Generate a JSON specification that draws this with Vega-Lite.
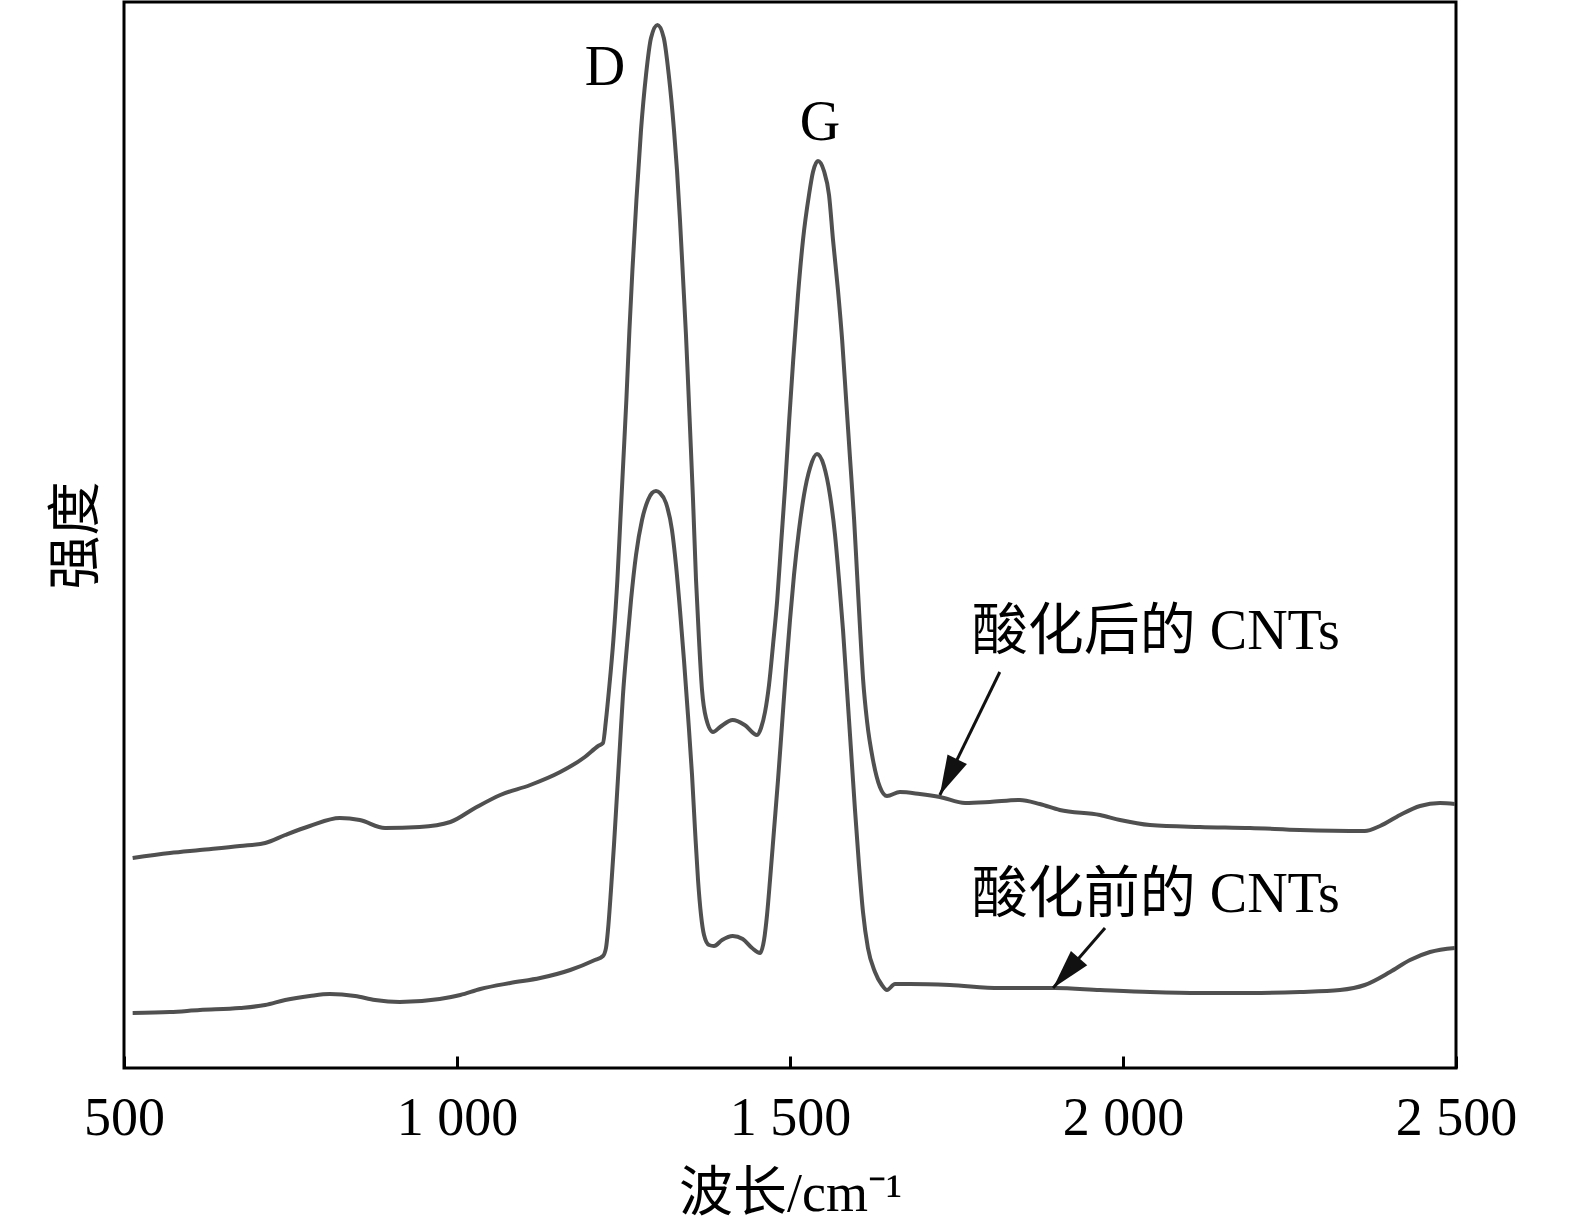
{
  "$schema": "https://vega.github.io/schema/vega-lite/v6.json",
  "description": "Raman spectra of CNTs before and after acid treatment.",
  "width": 1332,
  "height": 1066,
  "autosize": {"type": "none"},
  "padding": {"left": 124, "top": 2, "right": 119, "bottom": 159},
  "background": "white",
  "datasets": {
    "spectra": [
      {"series": "after", "x": 513, "y": 210}, {"series": "after", "x": 569, "y": 215}, {"series": "after", "x": 614, "y": 218},
      {"series": "after", "x": 674, "y": 222}, {"series": "after", "x": 712, "y": 225}, {"series": "after", "x": 742, "y": 233},
      {"series": "after", "x": 779, "y": 242}, {"series": "after", "x": 824, "y": 250}, {"series": "after", "x": 854, "y": 248},
      {"series": "after", "x": 892, "y": 240}, {"series": "after", "x": 944, "y": 241}, {"series": "after", "x": 990, "y": 246},
      {"series": "after", "x": 1027, "y": 260}, {"series": "after", "x": 1065, "y": 273}, {"series": "after", "x": 1110, "y": 283},
      {"series": "after", "x": 1155, "y": 296}, {"series": "after", "x": 1192, "y": 311}, {"series": "after", "x": 1212, "y": 322},
      {"series": "after", "x": 1219.2, "y": 325}, {"series": "after", "x": 1223.7, "y": 348}, {"series": "after", "x": 1228.2, "y": 378},
      {"series": "after", "x": 1234.8, "y": 428}, {"series": "after", "x": 1240.8, "y": 488}, {"series": "after", "x": 1245.3, "y": 548},
      {"series": "after", "x": 1249.8, "y": 608}, {"series": "after", "x": 1254.3, "y": 668}, {"series": "after", "x": 1258.9, "y": 738},
      {"series": "after", "x": 1263.4, "y": 798}, {"series": "after", "x": 1269.4, "y": 868}, {"series": "after", "x": 1276.3, "y": 938},
      {"series": "after", "x": 1283.8, "y": 993}, {"series": "after", "x": 1291.3, "y": 1030}, {"series": "after", "x": 1301, "y": 1043},
      {"series": "after", "x": 1310.5, "y": 1030}, {"series": "after", "x": 1318, "y": 993}, {"series": "after", "x": 1325.8, "y": 938},
      {"series": "after", "x": 1330.3, "y": 898}, {"series": "after", "x": 1334.8, "y": 848},
      {"series": "after", "x": 1339.3, "y": 791}, {"series": "after", "x": 1343.8, "y": 733}, {"series": "after", "x": 1346.8, "y": 688},
      {"series": "after", "x": 1349.8, "y": 641}, {"series": "after", "x": 1354.4, "y": 568}, {"series": "after", "x": 1358.9, "y": 488},
      {"series": "after", "x": 1363.4, "y": 428}, {"series": "after", "x": 1367.9, "y": 378}, {"series": "after", "x": 1373.9, "y": 350},
      {"series": "after", "x": 1384.4, "y": 336}, {"series": "after", "x": 1395, "y": 341}, {"series": "after", "x": 1414, "y": 348},
      {"series": "after", "x": 1432, "y": 343}, {"series": "after", "x": 1450.5, "y": 333}, {"series": "after", "x": 1456.5, "y": 340},
      {"series": "after", "x": 1462.5, "y": 356}, {"series": "after", "x": 1468.5, "y": 383}, {"series": "after", "x": 1474.5, "y": 423},
      {"series": "after", "x": 1480.8, "y": 468}, {"series": "after", "x": 1486.5, "y": 523}, {"series": "after", "x": 1492.8, "y": 583},
      {"series": "after", "x": 1498.8, "y": 648}, {"series": "after", "x": 1504.8, "y": 708}, {"series": "after", "x": 1512, "y": 773},
      {"series": "after", "x": 1519.5, "y": 828}, {"series": "after", "x": 1528.5, "y": 873}, {"series": "after", "x": 1534.5, "y": 896},
      {"series": "after", "x": 1542, "y": 907}, {"series": "after", "x": 1551, "y": 897}, {"series": "after", "x": 1558.6, "y": 873},
      {"series": "after", "x": 1564.6, "y": 828}, {"series": "after", "x": 1572, "y": 778}, {"series": "after", "x": 1578.3, "y": 728},
      {"series": "after", "x": 1584.3, "y": 668}, {"series": "after", "x": 1590.3, "y": 608}, {"series": "after", "x": 1596.3, "y": 548},
      {"series": "after", "x": 1600.8, "y": 493}, {"series": "after", "x": 1605.3, "y": 438}, {"series": "after", "x": 1609.8, "y": 388},
      {"series": "after", "x": 1615.8, "y": 346}, {"series": "after", "x": 1624.6, "y": 308}, {"series": "after", "x": 1635, "y": 281},
      {"series": "after", "x": 1645.6, "y": 272}, {"series": "after", "x": 1665, "y": 276},
      {"series": "after", "x": 1695, "y": 274}, {"series": "after", "x": 1725, "y": 271}, {"series": "after", "x": 1763, "y": 265},
      {"series": "after", "x": 1800, "y": 266}, {"series": "after", "x": 1845, "y": 268}, {"series": "after", "x": 1875, "y": 264},
      {"series": "after", "x": 1905, "y": 258}, {"series": "after", "x": 1965.5, "y": 253}, {"series": "after", "x": 1995.5, "y": 248},
      {"series": "after", "x": 2040.5, "y": 243}, {"series": "after", "x": 2115.6, "y": 241}, {"series": "after", "x": 2190.7, "y": 240},
      {"series": "after", "x": 2265.8, "y": 238}, {"series": "after", "x": 2363, "y": 237}, {"series": "after", "x": 2386, "y": 242},
      {"series": "after", "x": 2416, "y": 253}, {"series": "after", "x": 2446, "y": 262}, {"series": "after", "x": 2476, "y": 265},
      {"series": "after", "x": 2498.5, "y": 264},
      {"series": "before", "x": 513, "y": 55}, {"series": "before", "x": 569, "y": 56}, {"series": "before", "x": 614, "y": 58},
      {"series": "before", "x": 674, "y": 60}, {"series": "before", "x": 712, "y": 63}, {"series": "before", "x": 742, "y": 68},
      {"series": "before", "x": 779, "y": 72}, {"series": "before", "x": 809, "y": 74}, {"series": "before", "x": 847, "y": 72},
      {"series": "before", "x": 877, "y": 68}, {"series": "before", "x": 914, "y": 66}, {"series": "before", "x": 974, "y": 69},
      {"series": "before", "x": 1005, "y": 73}, {"series": "before", "x": 1035, "y": 79}, {"series": "before", "x": 1080, "y": 85},
      {"series": "before", "x": 1125, "y": 90}, {"series": "before", "x": 1170, "y": 98}, {"series": "before", "x": 1207, "y": 108},
      {"series": "before", "x": 1219.2, "y": 112}, {"series": "before", "x": 1223.7, "y": 120}, {"series": "before", "x": 1226.7, "y": 138},
      {"series": "before", "x": 1231.2, "y": 178}, {"series": "before", "x": 1235.7, "y": 223}, {"series": "before", "x": 1240.2, "y": 273},
      {"series": "before", "x": 1244.7, "y": 323}, {"series": "before", "x": 1249.2, "y": 373}, {"series": "before", "x": 1255.3, "y": 423},
      {"series": "before", "x": 1261.3, "y": 468}, {"series": "before", "x": 1268.8, "y": 513}, {"series": "before", "x": 1277.8, "y": 548},
      {"series": "before", "x": 1286.8, "y": 568}, {"series": "before", "x": 1292.8, "y": 575}, {"series": "before", "x": 1298.8, "y": 577},
      {"series": "before", "x": 1304.8, "y": 575}, {"series": "before", "x": 1313.8, "y": 565}, {"series": "before", "x": 1322.8, "y": 538},
      {"series": "before", "x": 1328.8, "y": 503}, {"series": "before", "x": 1334.8, "y": 458}, {"series": "before", "x": 1340.8, "y": 408},
      {"series": "before", "x": 1346.8, "y": 353}, {"series": "before", "x": 1352.9, "y": 293}, {"series": "before", "x": 1357.4, "y": 238},
      {"series": "before", "x": 1361.9, "y": 188}, {"series": "before", "x": 1366.4, "y": 153}, {"series": "before", "x": 1370.9, "y": 133},
      {"series": "before", "x": 1378.4, "y": 123}, {"series": "before", "x": 1385.9, "y": 122}, {"series": "before", "x": 1398, "y": 128},
      {"series": "before", "x": 1414, "y": 132}, {"series": "before", "x": 1429, "y": 129}, {"series": "before", "x": 1443, "y": 120},
      {"series": "before", "x": 1455, "y": 115}, {"series": "before", "x": 1461, "y": 128}, {"series": "before", "x": 1465.5, "y": 153},
      {"series": "before", "x": 1470, "y": 188}, {"series": "before", "x": 1476, "y": 238}, {"series": "before", "x": 1482, "y": 288},
      {"series": "before", "x": 1488, "y": 343}, {"series": "before", "x": 1494, "y": 398}, {"series": "before", "x": 1500, "y": 448},
      {"series": "before", "x": 1506, "y": 493}, {"series": "before", "x": 1513.5, "y": 538}, {"series": "before", "x": 1521, "y": 573},
      {"series": "before", "x": 1530, "y": 600}, {"series": "before", "x": 1540.5, "y": 614}, {"series": "before", "x": 1551, "y": 602},
      {"series": "before", "x": 1560, "y": 573}, {"series": "before", "x": 1567.6, "y": 533}, {"series": "before", "x": 1573.6, "y": 488},
      {"series": "before", "x": 1579.6, "y": 438}, {"series": "before", "x": 1585.6, "y": 378}, {"series": "before", "x": 1591.6, "y": 318},
      {"series": "before", "x": 1597.6, "y": 258}, {"series": "before", "x": 1603.6, "y": 203}, {"series": "before", "x": 1609.6, "y": 156},
      {"series": "before", "x": 1617, "y": 120}, {"series": "before", "x": 1627.6, "y": 96}, {"series": "before", "x": 1638, "y": 83},
      {"series": "before", "x": 1645.6, "y": 78}, {"series": "before", "x": 1657.7, "y": 84},
      {"series": "before", "x": 1680, "y": 84}, {"series": "before", "x": 1740, "y": 83}, {"series": "before", "x": 1815, "y": 80},
      {"series": "before", "x": 1898, "y": 80}, {"series": "before", "x": 1965.5, "y": 78}, {"series": "before", "x": 2040.5, "y": 76},
      {"series": "before", "x": 2115.6, "y": 75}, {"series": "before", "x": 2190.7, "y": 75}, {"series": "before", "x": 2265.8, "y": 76},
      {"series": "before", "x": 2325.8, "y": 78}, {"series": "before", "x": 2363, "y": 83}, {"series": "before", "x": 2401, "y": 96},
      {"series": "before", "x": 2431, "y": 108}, {"series": "before", "x": 2461, "y": 116}, {"series": "before", "x": 2498.5, "y": 120}
    ],
    "arrows": [
      {"series": "after", "x": 1815, "y": 396, "x2": 1725, "y2": 273},
      {"series": "before", "x": 1973, "y": 140, "x2": 1895, "y2": 80}
    ],
    "peaks": [
      {"text": "D", "x": 1222, "y": 1000},
      {"text": "G", "x": 1545, "y": 945}
    ],
    "notes": [
      {"text": "酸化后的 CNTs", "x": 1773, "y": 436},
      {"text": "酸化前的 CNTs", "x": 1773, "y": 173}
    ]
  },
  "config": {
    "view": {"stroke": "black", "strokeWidth": 3},
    "font": "Liberation Serif",
    "axis": {
      "labelFont": "Liberation Serif",
      "titleFont": "Liberation Serif, Noto Sans CJK SC",
      "labelColor": "black",
      "titleColor": "black",
      "titleFontWeight": "normal",
      "labelFontSize": 54,
      "titleFontSize": 54,
      "grid": false,
      "domain": false
    }
  },
  "encoding": {
    "x": {
      "field": "x",
      "type": "quantitative",
      "scale": {"domain": [500, 2500], "nice": false, "zero": false},
      "axis": {
        "title": "波长/cm⁻¹",
        "values": [500, 1000, 1500, 2000, 2500],
        "labelExpr": "replace(format(datum.value, ','), ',', ' ')",
        "labelFlush": false,
        "tickSize": -12,
        "tickWidth": 3,
        "tickColor": "black",
        "zindex": 1,
        "labelPadding": 35,
        "titlePadding": 22
      }
    },
    "y": {
      "field": "y",
      "type": "quantitative",
      "scale": {"domain": [0, 1066], "nice": false, "zero": false},
      "axis": {
        "title": "强度",
        "labels": false,
        "ticks": false,
        "titlePadding": 20
      }
    }
  },
  "layer": [
    {
      "data": {"name": "spectra"},
      "mark": {"type": "line", "color": "#505050", "strokeWidth": 4, "interpolate": "monotone"},
      "encoding": {"detail": {"field": "series"}}
    },
    {
      "data": {"name": "arrows"},
      "mark": {"type": "rule", "color": "#111111", "strokeWidth": 3},
      "encoding": {
        "x2": {"field": "x2"},
        "y2": {"field": "y2"}
      }
    },
    {
      "data": {"name": "arrows"},
      "transform": [{"filter": "datum.series == 'after'"}],
      "mark": {"type": "point", "filled": true, "color": "#111111", "opacity": 1, "shape": "M0,0L0.6,2.2L-0.6,2.2Z", "size": 1300, "angle": 206},
      "encoding": {
        "x": {"field": "x2", "type": "quantitative"},
        "y": {"field": "y2", "type": "quantitative"}
      }
    },
    {
      "data": {"name": "arrows"},
      "transform": [{"filter": "datum.series == 'before'"}],
      "mark": {"type": "point", "filled": true, "color": "#111111", "opacity": 1, "shape": "M0,0L0.6,2.2L-0.6,2.2Z", "size": 1300, "angle": 221},
      "encoding": {
        "x": {"field": "x2", "type": "quantitative"},
        "y": {"field": "y2", "type": "quantitative"}
      }
    },
    {
      "data": {"name": "peaks"},
      "mark": {"type": "text", "font": "Liberation Serif", "fontSize": 56, "align": "center", "baseline": "middle", "color": "black"},
      "encoding": {"text": {"field": "text"}}
    },
    {
      "data": {"name": "notes"},
      "mark": {"type": "text", "font": "Liberation Serif, Noto Sans CJK SC", "fontSize": 56, "align": "left", "baseline": "middle", "color": "black"},
      "encoding": {"text": {"field": "text"}}
    }
  ]
}
